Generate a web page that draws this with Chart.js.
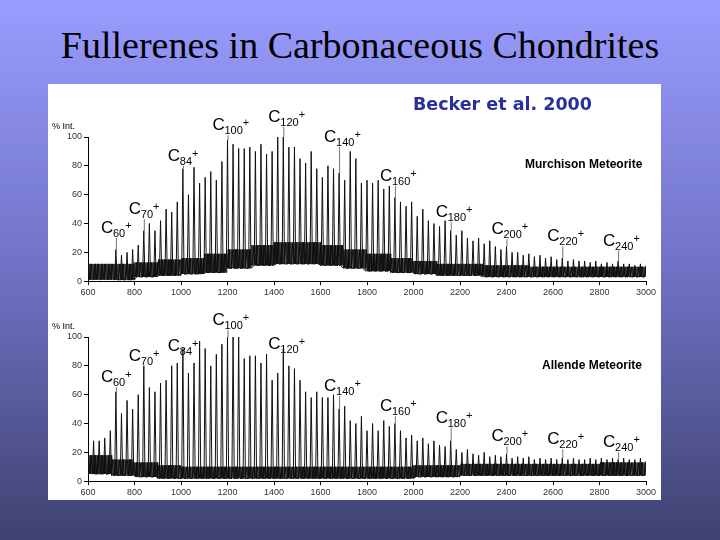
<!DOCTYPE html>
<html><head><meta charset="utf-8">
<script src="https://cdn.jsdelivr.net/npm/chart.js@4"></script>
<style>
html,body{margin:0;padding:0;}
body{width:720px;height:540px;position:relative;overflow:hidden;background:linear-gradient(#9a9cff,#6f72c4 50%,#3f4270);font-family:"Liberation Sans",Arial,sans-serif;}
#title{position:absolute;left:0;top:24px;width:720px;text-align:center;font-family:"Liberation Serif","Times New Roman",serif;font-size:38px;line-height:42px;color:#000;}
#panel{position:absolute;left:48px;top:84px;width:613px;height:416px;background:#fff;}
#becker{position:absolute;left:413px;top:94px;font-family:"DejaVu Sans",Verdana,sans-serif;font-weight:bold;font-size:17.5px;color:#2b2f9e;}
.c{position:absolute;left:48px;}
.name{position:absolute;font-weight:bold;font-size:12px;color:#000;}
</style></head><body>
<div id="title">Fullerenes in Carbonaceous Chondrites</div>
<div id="panel"></div>
<div class="c" style="top:84px;width:613px;height:216px"><canvas id="c1"></canvas></div>
<div class="c" style="top:300px;width:613px;height:200px"><canvas id="c2"></canvas></div>
<div id="becker">Becker et al. 2000</div>
<div class="name" style="left:525px;top:157px">Murchison Meteorite</div>
<div class="name" style="left:542px;top:358px">Allende Meteorite</div>
<script>
// tick labels
const xTicks=[600,800,1000,1200,1400,1600,1800,2000,2200,2400,2600,2800,3000];
const yTicks=[0,20,40,60,80,100];
// Murchison: cluster sizes n (even) and peak % intensities
const murchN0=60;
const murchPeaks=[22,18,20,22,25,35,40,35,42,50,48,55,78,60,79,68,72,76,70,83,98,95,92,92,93,90,95,88,90,100,100,93,93,85,82,90,78,72,80,78,75,70,90,85,68,70,68,70,64,66,58,55,52,55,45,50,42,40,38,42,35,32,35,30,28,30,26,28,24,22,24,20,20,18,19,17,18,16,17,15,16,14,15,14,14,13,14,12,13,12,14,12,12,11,12,11];
// Murchison noise band, per 100 amu bin starting 600
const murchNoiseLow=[1,1,3,4,5,6,9,11,12,12,11,9,7,6,5,4,4,3,3,3,3,3,3,3];
const murchNoiseHigh=[12,12,13,15,16,19,22,25,27,27,25,22,19,16,14,12,12,11,11,10,10,10,10,10];
// Allende
const allN0=52;
const allPeaks=[28,28,30,35,62,47,56,50,60,80,65,62,68,70,80,82,92,75,82,97,92,80,88,95,100,100,100,85,87,87,82,88,70,75,92,80,78,70,62,58,62,58,58,60,50,52,42,40,45,35,40,35,42,38,40,35,30,32,28,30,26,28,25,24,28,22,20,22,19,18,20,17,18,17,19,16,17,16,17,15,16,15,16,15,16,15,16,15,15,16,15,16,15,16,15,16,15,15,16,14];
const allNoiseLow=[5,4,3,2,2,2,2,2,2,2,2,2,2,2,3,3,4,4,4,4,4,4,4,4];
const allNoiseHigh=[18,15,13,11,10,10,10,10,10,10,10,10,10,10,11,11,12,12,12,12,12,12,13,13];
// labelled clusters and label heights (% scale)
const murchLabels=[[60,35],[70,48],[84,85],[100,106],[120,112],[140,98],[160,71],[180,46],[200,34],[220,29],[240,26]];
const allLabels=[[60,70],[70,85],[84,92],[100,110],[120,93],[140,64],[160,50],[180,42],[200,29],[220,27],[240,25]];

function bin(arr,m){return arr[Math.min(arr.length-1,Math.floor((m-600)/100))];}
function build(n0,peaks,lo,hi){
  const pk=[];
  peaks.forEach((p,i)=>{const m=12*(n0+2*i);
    pk.push({x:m-5,y:bin(lo,m)},{x:m,y:p},{x:m+5,y:bin(lo,m)});});
  const zz=[];
  for(let m=600,k=0;m<=3000;m+=3,k++){zz.push({x:m,y:(k%2?bin(hi,m):bin(lo,m))});}
  return {pk,zz};
}
const labelPlugin={id:'lab',afterDraw(ch,args,opts){
  const c=ch.ctx,xs=ch.scales.x,ys=ch.scales.y;
  c.save();
  c.fillStyle='#000';c.font='9px "Liberation Sans",Arial';c.textAlign='left';
  c.fillText('% Int.',4,ys.top-8);
  opts.labels.forEach(([n,h],k)=>{
    const m=12*n,px=xs.getPixelForValue(m),py=ys.getPixelForValue(h);
    const pk=opts.peaks[(n-opts.n0)/2];
    c.strokeStyle='#777';c.lineWidth=1;c.beginPath();c.moveTo(px+0.5,py+7);c.lineTo(px+0.5,ys.getPixelForValue(pk));c.stroke();
    c.fillStyle='#000';c.font='17px "Liberation Sans",Arial';
    const x0=px-15;c.fillText('C',x0,py+2);
    c.font='11px "Liberation Sans",Arial';c.fillText(String(n),x0+12,py+6);
    const w=c.measureText(String(n)).width;c.fillText('+',x0+12+w,py-2);
  });
  c.restore();}};
function make(id,n0,peaks,lo,hi,labels,padTop){
  const d=build(n0,peaks,lo,hi);
  new Chart(document.getElementById(id),{type:'line',
    data:{datasets:[
      {data:d.zz,borderColor:'#111',borderWidth:1,pointRadius:0,fill:false,tension:0},
      {data:d.pk,borderColor:'#111',borderWidth:1,pointRadius:0,fill:false}]},
    options:{animation:false,responsive:true,maintainAspectRatio:false,
      layout:{padding:{top:padTop,right:15,left:0,bottom:0}},
      plugins:{legend:{display:false},tooltip:{enabled:false},lab:{labels,peaks,n0}},
      scales:{
        x:{type:'linear',min:600,max:3000,afterBuildTicks:a=>{a.ticks=xTicks.map(v=>({value:v}));},
          grid:{drawOnChartArea:false,tickLength:4,color:'#000'},border:{color:'#000'},
          ticks:{color:'#333',font:{size:9,family:'"Liberation Sans",Arial'},padding:2,maxRotation:0,callback:v=>String(v)}},
        y:{min:0,max:100,afterBuildTicks:a=>{a.ticks=yTicks.map(v=>({value:v}));},
          afterFit:a=>{a.width=40;},
          grid:{drawOnChartArea:false,tickLength:4,color:'#000'},border:{color:'#000'},
          ticks:{color:'#333',font:{size:9,family:'"Liberation Sans",Arial'},padding:2,callback:v=>String(v)}}}},
    plugins:[labelPlugin]});
}
make('c1',murchN0,murchPeaks,murchNoiseLow,murchNoiseHigh,murchLabels,53);
make('c2',allN0,allPeaks,allNoiseLow,allNoiseHigh,allLabels,37);
</script></body></html>
